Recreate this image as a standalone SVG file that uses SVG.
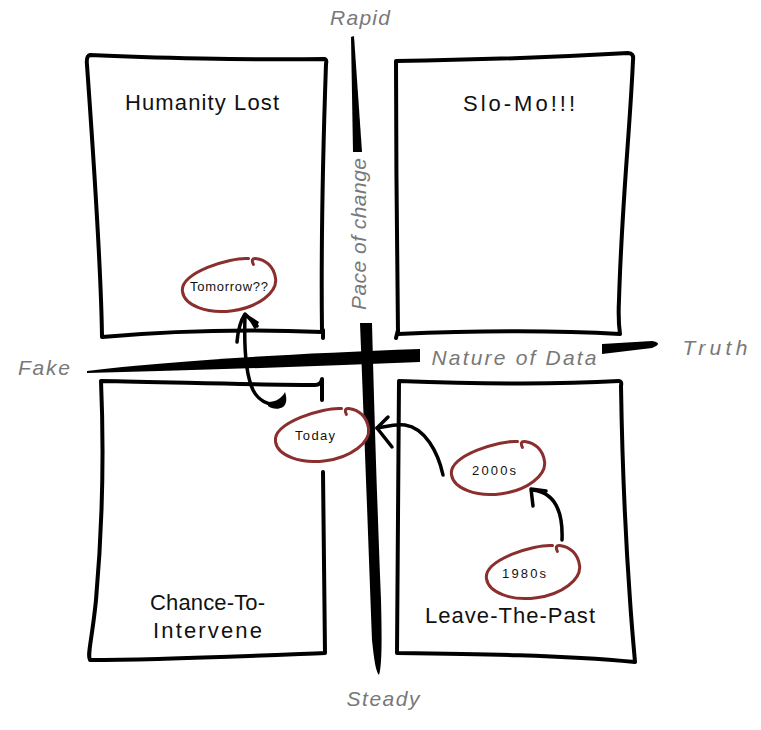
<svg xmlns="http://www.w3.org/2000/svg" xmlns:xlink="http://www.w3.org/1999/xlink" width="761" height="730" viewBox="0 0 761 730">
  <style>
    .box { fill: none; stroke: #000; stroke-width: 4; stroke-linecap: round; stroke-linejoin: round; }
    .bar { fill: #000; stroke: none; }
    .label { font-family: "Liberation Sans", "DejaVu Sans", sans-serif; font-size: 22px; fill: #111; text-anchor: middle; }
    .small { font-family: "Liberation Sans", "DejaVu Sans", sans-serif; font-size: 13px; fill: #111; text-anchor: middle; }
    .axis { font-family: "Liberation Sans", "DejaVu Sans", sans-serif; font-style: italic; font-size: 21px; fill: #787878; text-anchor: middle; }
    .bubble { fill: #fff; stroke: #8b2e2e; stroke-width: 3; stroke-linecap: round; stroke-linejoin: round; }
    .conn { fill: none; stroke: #000; stroke-width: 3.5; stroke-linecap: round; stroke-linejoin: round; }
  </style>
  <defs>
    <path id="bubble" transform="rotate(-8)" d="M23,-23.5 C5,-27.5 -47,-19 -47,0 C-47,14 -26,26 0,26 C26,26 47,14 47,0 C47,-12 40,-20 30,-22.5 Q25,-23.5 27,-17"/>
  </defs>

  <rect width="761" height="730" fill="#fff"/>

  <!-- quadrant boxes -->
  <g id="node-humanity-lost">
    <path class="box" d="M90,55 C150,58 250,60 325,59 Q327,60 326,64 C323,150 321,250 322,332 C250,329 170,331 102,337 C101,260 93,150 87,65 Q86,56 90,55 Z M323,330 L323,338"/>
    <text class="label" x="202" y="110" textLength="154">Humanity Lost</text>
  </g>
  <g id="node-slo-mo">
    <path class="box" d="M396,61 C470,60 560,57 628,53 Q634,53 633,60 C630,130 622,200 619,300 Q618,320 620,334 C550,330 470,331 398,334 C397,250 396,150 396,61 Z M398,330 L396,338"/>
    <text class="label" x="519" y="111" textLength="112">Slo-Mo!!!</text>
  </g>
  <g id="node-chance-to-intervene">
    <path class="box" d="M322,400 L322,379 Q321,385 315,385 C250,385 170,382 101,381 C104,450 103,520 96,600 C92,640 87,655 90,660 C160,660 250,656 325,653 L323,472"/>
    <text class="label" x="207.5" y="610" textLength="115">Chance-To-</text>
    <text class="label" x="207.5" y="638" textLength="109">Intervene</text>
  </g>
  <g id="node-leave-the-past">
    <path class="box" d="M399,381 C480,384 550,385 619,381 Q622,381 621,386 C622,450 625,530 630,600 C632,630 634,650 635,662 C560,655 480,654 397,653 C397,550 399,450 399,381 Z"/>
    <text class="label" x="510" y="623" textLength="170">Leave-The-Past</text>
  </g>

  <!-- axes -->
  <g id="axes">
    <path class="bar" d="M351,37 L354,36 L362,152 L353,152 Z"/>
    <path class="bar" d="M360,323 L372,323 C374,400 377,500 381,600 C382,640 382,665 379,675 C376,672 374,660 372,640 C369,560 365,450 360,323 Z"/>
    <path class="bar" d="M87,371 Q200,357 420,349 L420,362 Q250,369 87,373 Z"/>
    <path class="bar" d="M602,344 L652,341 Q664,343 652,348 L602,354 Z"/>
    <text class="axis" x="360" y="25" textLength="60">Rapid</text>
    <text class="axis" x="44" y="375" textLength="52">Fake</text>
    <text class="axis" x="715" y="355" textLength="65">Truth</text>
    <text class="axis" x="383" y="706" textLength="73">Steady</text>
    <text class="axis" x="514" y="365" textLength="165">Nature of Data</text>
    <text class="axis" x="0" y="0" font-size="19" textLength="152" transform="translate(366,234) rotate(-90)">Pace of change</text>
  </g>

  <!-- connectors -->
  <g id="connectors">
    <path class="conn" d="M562,540 C563,515 557,493 533,490"/>
    <path class="conn" d="M533,506 L531,489 L546,491"/>
    <path class="conn" d="M443,475 C438,452 425,428 405,425 C393,424 385,427 377,428"/>
    <path class="conn" d="M388,417 L377,428 L392,447"/>
    <path class="conn" d="M245,316 C244,345 246,375 253,390 C258,400 268,406 278,404"/>
    <path class="bar" d="M268,402 C276,402 282,398 285,392 C287,398 287,404 283,407 C278,410 272,409 268,406 Z"/>
    <path class="conn" d="M237,342 C238,330 241,320 245,314 L257,326"/>
    <path class="bar" d="M245,313 L259,322 L255,330 Z"/>
  </g>

  <!-- bubbles -->
  <g id="node-tomorrow">
    <use xlink:href="#bubble" class="bubble" transform="translate(229,285)"/>
    <text class="small" x="229" y="291" textLength="78">Tomorrow??</text>
  </g>
  <g id="node-today">
    <use xlink:href="#bubble" class="bubble" transform="translate(322,435)"/>
    <text class="small" x="315" y="440" textLength="40">Today</text>
  </g>
  <g id="node-2000s">
    <use xlink:href="#bubble" class="bubble" transform="translate(498,468)"/>
    <text class="small" x="494" y="475" font-size="14" textLength="44">2000s</text>
  </g>
  <g id="node-1980s">
    <use xlink:href="#bubble" class="bubble" transform="translate(533,572)"/>
    <text class="small" x="524" y="578" font-size="14" textLength="44">1980s</text>
  </g>
</svg>
